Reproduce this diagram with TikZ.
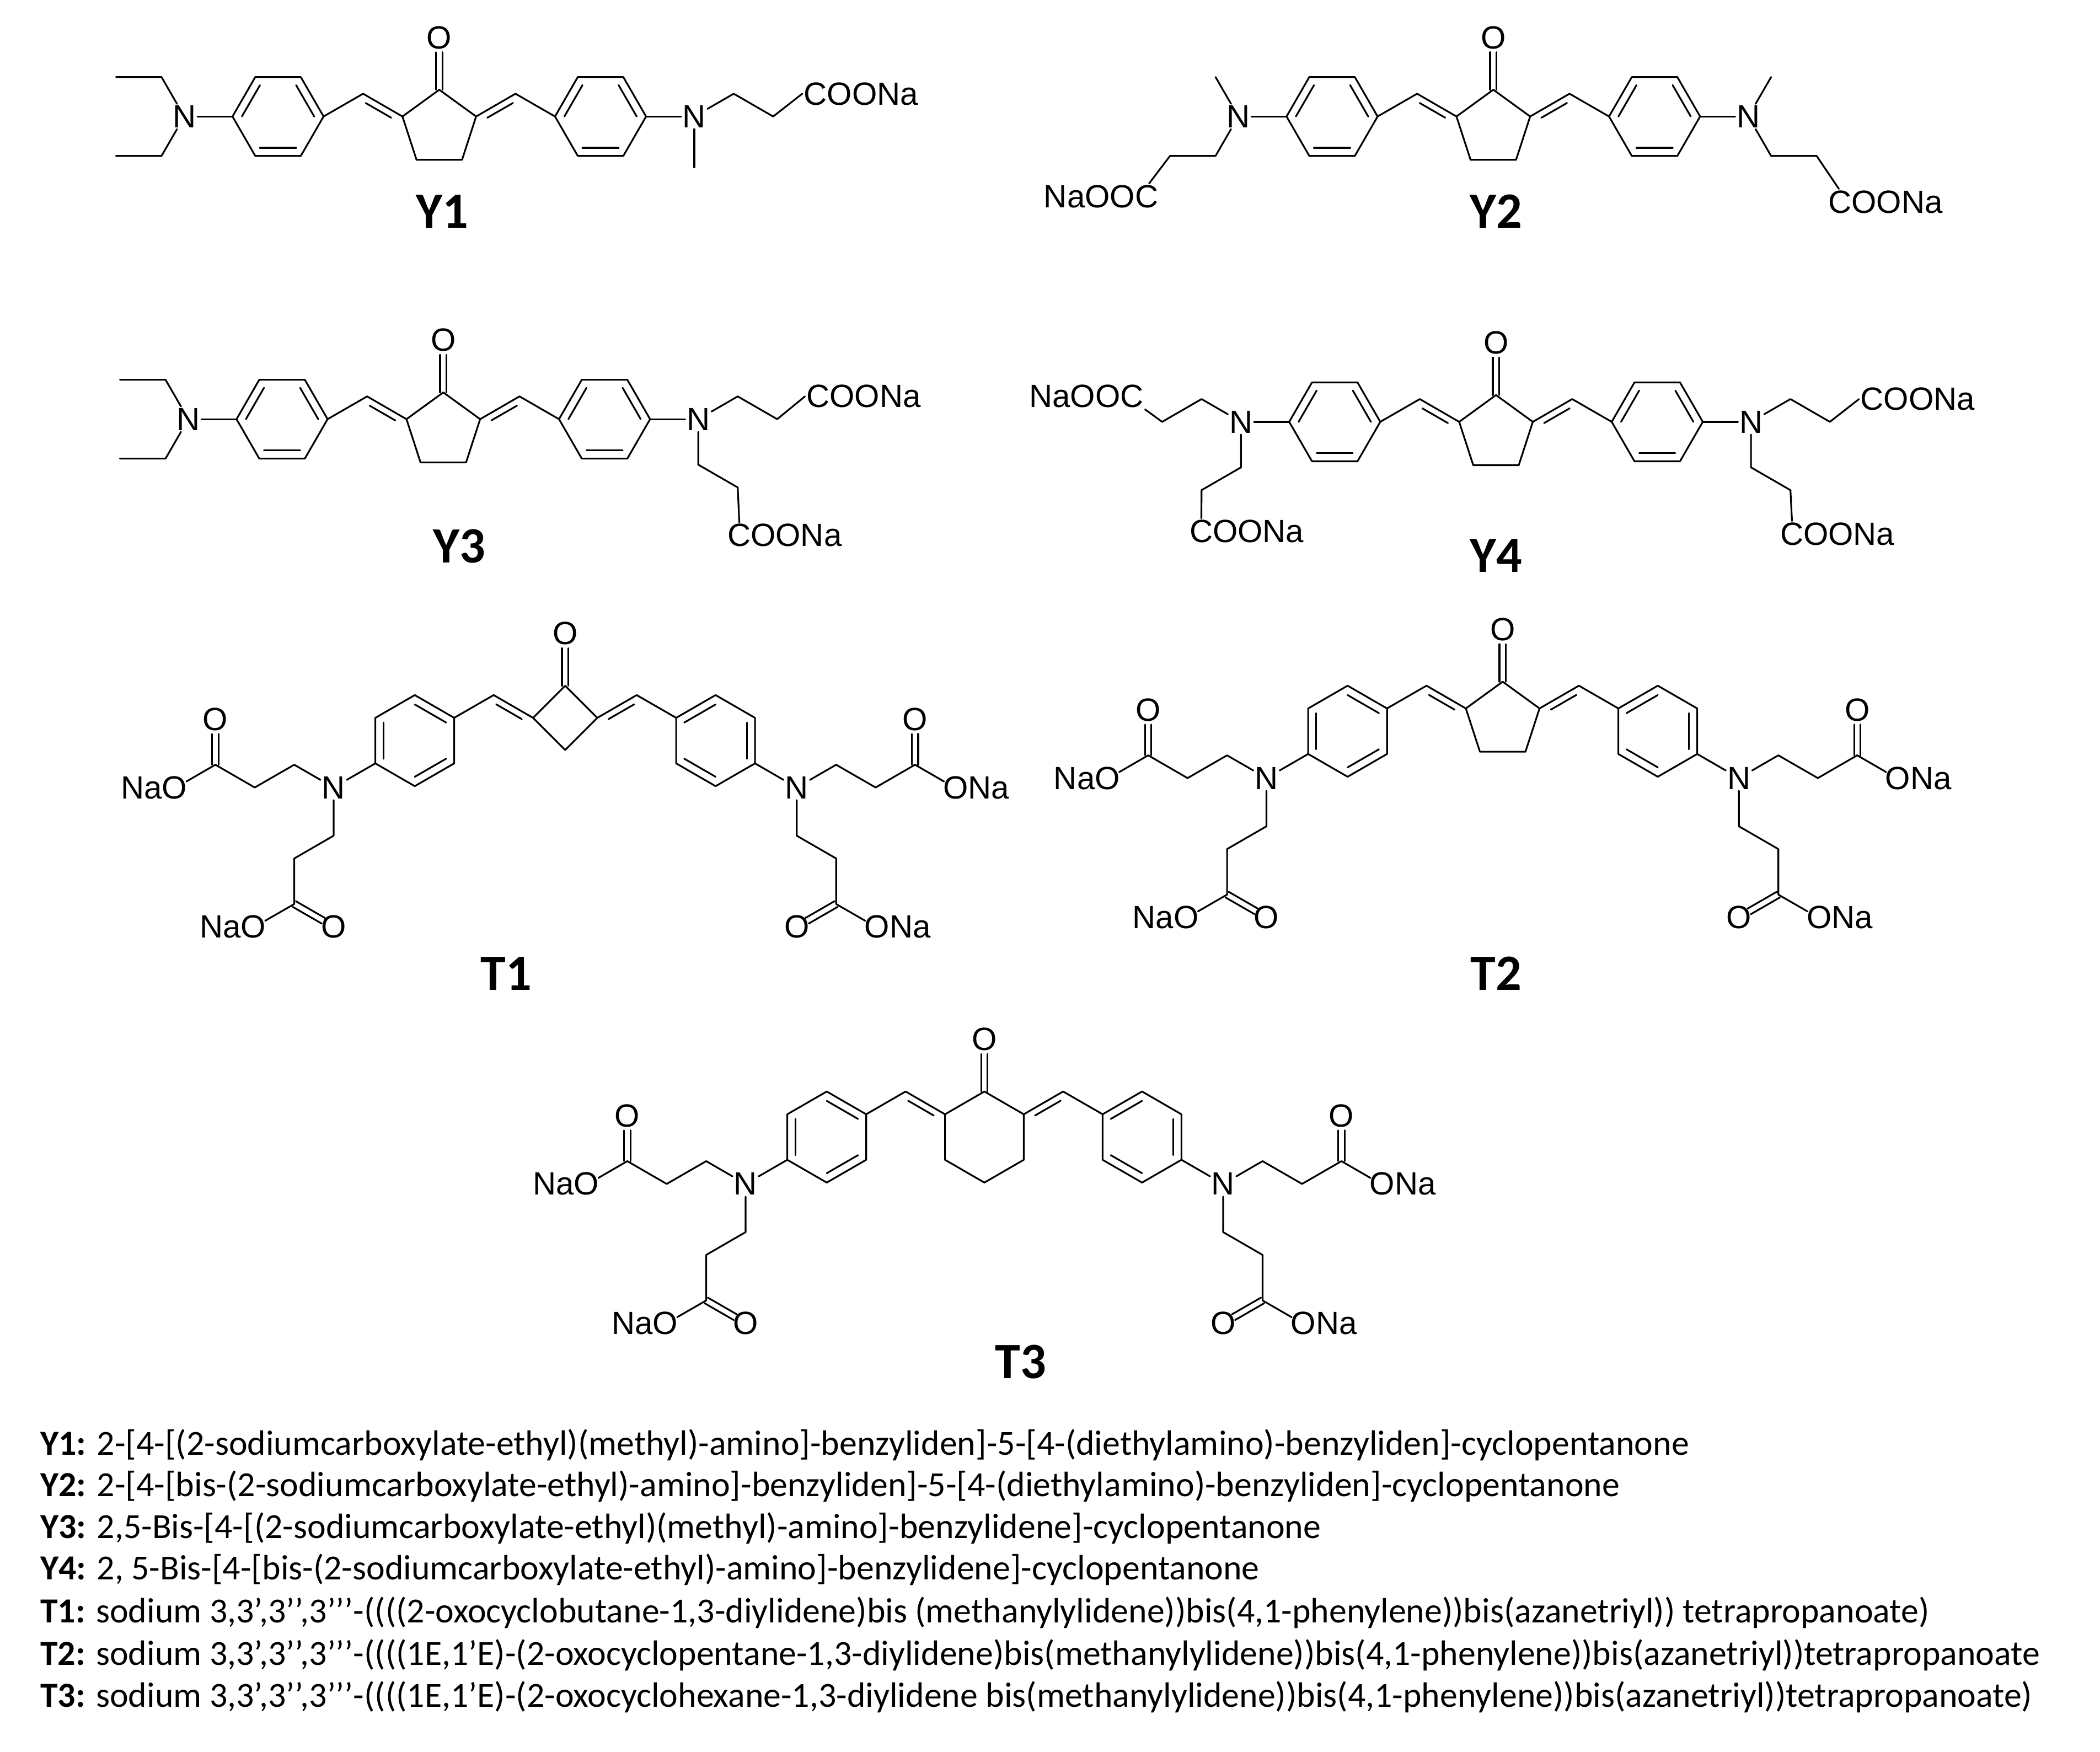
\documentclass[tikz,border=0pt]{standalone}
\usepackage{fontspec}
\usetikzlibrary{calc}
\setmainfont{Liberation Sans}
\newfontfamily\lab{Carlito}
\tikzset{bond/.style={line width=1.3pt,line cap=round,line join=round},
 atom/.style={inner sep=1pt,font=\fontsize{24}{24}\selectfont},
 lbl/.style={font=\lab\bfseries\fontsize{38}{40}\selectfont},
 txt/.style={anchor=west,inner sep=0pt,font=\lab\fontsize{26.3}{28}\selectfont}}
\newcommand\Yhalf[1]{%
 \draw[bond] (27.5,19.98) -- (56.9,2.98) -- (86.4,19.98);
 \draw[bond] (35.9,20.9) -- (55,9.9);
 \begin{scope}[shift={(120.4,19.98)}]
  \draw[bond] (0:34) -- (60:34) -- (120:34) -- (180:34) -- (240:34) -- (300:34) -- cycle;
  \foreach \a in {180,300,60}{\draw[bond] (\a:27) -- (\a+60:27);}
  \node[atom] (#1N) at (70,0) {N};
  \draw[bond] (0:34) -- (#1N);
 \end{scope}}
\newcommand\Thalf[3]{%
 \begin{scope}[shift={(#2,#3)}]
 \draw[bond] (0,0) -- (29.4,-17) -- (58.9,0);
 \draw[bond] (8.4,0.93) -- (27.5,-10.1);
 \begin{scope}[shift={(88.3,17)}]
  \draw[bond] (30:34) -- (90:34) -- (150:34) -- (210:34) -- (270:34) -- (330:34) -- cycle;
  \foreach \a in {210,330,90}{\draw[bond] (\a:27) -- (\a+60:27);}
  \node[atom] (#1N) at (60.6,35) {N};
  \draw[bond] (30:34) -- (#1N);
 \end{scope}
 \end{scope}}
\newcommand\carbonyl[1]{%
 \node[atom] (#1O) at (0,-39) {O};
 \draw[bond] (-2.4,0) -- (-2.4,-28); \draw[bond] (2.4,0) -- (2.4,-28);}
\newcommand\pentagon{\draw[bond] (0,0) -- (27.5,19.98) -- (17,52.3) -- (-17,52.3) -- (-27.5,19.98) -- cycle;}
\newcommand\Tsub[4]{%
 \begin{scope}[shift={(#1N)},xscale=#2]
  \draw[bond] (#1N) -- (29.4,-17) -- (58.9,0) -- (88.3,-17);
  \node[atom] (#1Ou) at (88.3,-51) {O};
  \draw[bond] (86,-17) -- (86,-40); \draw[bond] (90.7,-17) -- (90.7,-40);
  \coordinate (#1s) at (117.7,0);
  \node[atom,anchor=#4] (#1S) at (108.2,0) {#3};
  \draw[bond,shorten >=9pt] (88.3,-17) -- (#1s);
  \draw[bond] (#1N) -- (0,36) -- (29.4,53) -- (29.4,87);
  \node[atom] (#1Od) at (0,104) {O};
  \draw[bond] (30.6,89.1) -- (8.9,101.6); \draw[bond] (28.2,84.9) -- (6.5,97.4);
  \coordinate (#1t) at (58.9,104);
  \node[atom,anchor=#4] (#1T) at (49.4,104) {#3};
  \draw[bond,shorten >=9pt] (29.4,87) -- (#1t);
 \end{scope}}
\begin{document}
\begin{tikzpicture}[x=1pt,y=-1pt]
\useasboundingbox (0,0) rectangle (1568,1308);
% ---------- Y1
\begin{scope}[shift={(328,67)}]
 \pentagon \carbonyl{y1}
 \Yhalf{y1r}
 \begin{scope}[xscale=-1]\Yhalf{y1l}\end{scope}
\end{scope}
\draw[bond] (y1lN) -- ++(-120:34) -- ++(180:34);
\draw[bond] (y1lN) -- ++(120:34) -- ++(180:34);
\draw[bond] (y1rN) -- ++(90:38);
\node[atom,anchor=west] (y1c) at (599,70) {COONa};
\draw[bond] (y1rN) -- ++(-30:34) -- ++(30:34) -- (y1c.west);
\node[lbl] (y1lab) at (330,158) {Y1};
% ---------- Y2
\begin{scope}[shift={(1115,67)}]
 \pentagon \carbonyl{y2}
 \Yhalf{y2r}
 \begin{scope}[xscale=-1]\Yhalf{y2l}\end{scope}
\end{scope}
\draw[bond] (y2lN) -- ++(-120:34);
\node[atom,anchor=north east] (y2a) at (866,137) {NaOOC};
\draw[bond] (y2lN) -- ++(120:34) -- ++(180:34) -- ($(y2a.north east)+(-8,0)$);
\draw[bond] (y2rN) -- ++(-60:34);
\node[atom,anchor=north west] (y2b) at (1364,141) {COONa};
\draw[bond] (y2rN) -- ++(60:34) -- ++(0:34) -- ($(y2b.north west)+(9,0)$);
\node[lbl] (y2lab) at (1117,158) {Y2};
% ---------- Y3
\begin{scope}[shift={(331,293)}]
 \pentagon \carbonyl{y3}
 \Yhalf{y3r}
 \begin{scope}[xscale=-1]\Yhalf{y3l}\end{scope}
\end{scope}
\draw[bond] (y3lN) -- ++(-120:34) -- ++(180:34);
\draw[bond] (y3lN) -- ++(120:34) -- ++(180:34);
\node[atom,anchor=west] (y3c) at (601,296) {COONa};
\draw[bond] (y3rN) -- ++(-30:34) -- ++(30:34) -- (y3c.west);
\node[atom,anchor=north west] (y3d) at (542,390) {COONa};
\draw[bond] (y3rN) -- ++(90:34) -- ++(30:34) -- ($(y3d.north west)+(10,0)$);
\node[lbl] (y3lab) at (343,408) {Y3};
% ---------- Y4
\begin{scope}[shift={(1117,295)}]
 \pentagon \carbonyl{y4}
 \Yhalf{y4r}
 \begin{scope}[xscale=-1]\Yhalf{y4l}\end{scope}
\end{scope}
\node[atom,anchor=east] (y4a) at (855,296) {NaOOC};
\draw[bond] (y4lN) -- ++(-150:34) -- ++(150:34) -- (y4a.south east);
\node[atom,anchor=north west] (y4b) at (887,387) {COONa};
\draw[bond] (y4lN) -- ++(90:34) -- ++(150:34) -- ($(y4b.north west)+(10,0)$);
\node[atom,anchor=west] (y4c) at (1388,298) {COONa};
\draw[bond] (y4rN) -- ++(-30:34) -- ++(30:34) -- (y4c.west);
\node[atom,anchor=north west] (y4d) at (1328,389) {COONa};
\draw[bond] (y4rN) -- ++(90:34) -- ++(30:34) -- ($(y4d.north west)+(10,0)$);
\node[lbl] (y4lab) at (1117,415) {Y4};
% ---------- T1
\begin{scope}[shift={(422,512)}]
 \draw[bond] (0,0) -- (24,24) -- (0,48) -- (-24,24) -- cycle;
 \carbonyl{t1}
 \Thalf{t1r}{24}{24}
 \begin{scope}[xscale=-1]\Thalf{t1l}{24}{24}\end{scope}
\end{scope}
\Tsub{t1r}{1}{ONa}{west}
\Tsub{t1l}{-1}{NaO}{east}
\node[lbl] (t1lab) at (378,727) {T1};
% ---------- T2
\begin{scope}[shift={(1122,509)}]
 \pentagon \carbonyl{t2}
 \Thalf{t2r}{27.5}{19.98}
 \begin{scope}[xscale=-1]\Thalf{t2l}{27.5}{19.98}\end{scope}
\end{scope}
\Tsub{t2r}{1}{ONa}{west}
\Tsub{t2l}{-1}{NaO}{east}
\node[lbl] (t2lab) at (1117,727) {T2};
% ---------- T3
\begin{scope}[shift={(735,815)}]
 \draw[bond] (0,0) -- (29.4,17) -- (29.4,51) -- (0,68) -- (-29.4,51) -- (-29.4,17) -- cycle;
 \carbonyl{t3}
 \Thalf{t3r}{29.4}{17}
 \begin{scope}[xscale=-1]\Thalf{t3l}{29.4}{17}\end{scope}
\end{scope}
\Tsub{t3r}{1}{ONa}{west}
\Tsub{t3l}{-1}{NaO}{east}
\node[lbl] (t3lab) at (762,1017) {T3};
% ---------- names
\node[txt] (n1) at (30,1079) {\textbf{Y1:} 2-[4-[(2-sodiumcarboxylate-ethyl)(methyl)-amino]-benzyliden]-5-[4-(diethylamino)-benzyliden]-cyclopentanone};
\node[txt] (n2) at (30,1110) {\textbf{Y2:} 2-[4-[bis-(2-sodiumcarboxylate-ethyl)-amino]-benzyliden]-5-[4-(diethylamino)-benzyliden]-cyclopentanone};
\node[txt] (n3) at (30,1141) {\textbf{Y3:} 2,5-Bis-[4-[(2-sodiumcarboxylate-ethyl)(methyl)-amino]-benzylidene]-cyclopentanone};
\node[txt] (n4) at (30,1172) {\textbf{Y4:} 2, 5-Bis-[4-[bis-(2-sodiumcarboxylate-ethyl)-amino]-benzylidene]-cyclopentanone};
\node[txt] (n5) at (30,1204) {\textbf{T1:} sodium 3,3’,3’’,3’’’-((((2-oxocyclobutane-1,3-diylidene)bis (methanylylidene))bis(4,1-phenylene))bis(azanetriyl)) tetrapropanoate)};
\node[txt] (n6) at (30,1236) {\textbf{T2:} sodium 3,3’,3’’,3’’’-((((1E,1’E)-(2-oxocyclopentane-1,3-diylidene)bis(methanylylidene))bis(4,1-phenylene))bis(azanetriyl))tetrapropanoate};
\node[txt] (n7) at (30,1267) {\textbf{T3:} sodium 3,3’,3’’,3’’’-((((1E,1’E)-(2-oxocyclohexane-1,3-diylidene bis(methanylylidene))bis(4,1-phenylene))bis(azanetriyl))tetrapropanoate)};
\end{tikzpicture}
\end{document}
